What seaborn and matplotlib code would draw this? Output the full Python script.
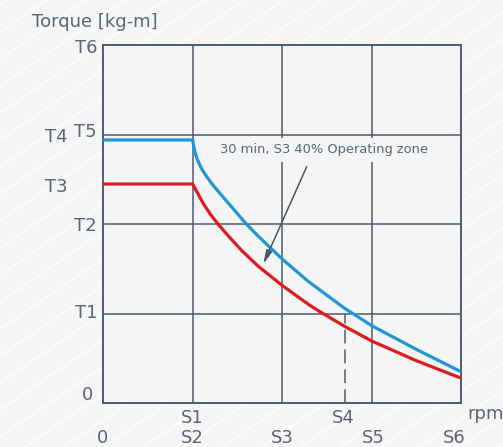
import matplotlib.pyplot as plt
from matplotlib.lines import Line2D
import pandas as pd
import seaborn as sns

# curve readings (speed in grid units S0..S4, torque in grid units 0..T6)
speed_blue = [0.0, 1.002, 1.013, 1.031, 1.056, 1.10, 1.154, 1.232, 1.322,
              1.601, 1.735, 2.003, 2.294, 2.704, 3.006, 3.505, 3.981]
torque_blue = [2.939, 2.939, 2.87, 2.79, 2.715, 2.62, 2.535, 2.43, 2.324,
               2.000, 1.863, 1.608, 1.358, 1.055, 0.862, 0.597, 0.359]
speed_red = [0.0, 1.002, 1.117, 1.201, 1.285, 1.408, 1.550, 1.735, 2.003,
             2.294, 2.425, 2.704, 3.006, 3.505, 3.981]
torque_red = [2.447, 2.447, 2.234, 2.108, 1.999, 1.858, 1.703, 1.527, 1.313,
              1.103, 1.019, 0.854, 0.691, 0.471, 0.285]

# tick labels
y_labels = ["T6", "T5", "T4", "T3", "T2", "T1", "0"]
y_label_pos = [3.907, 2.976, 2.920, 2.361, 1.927, 0.946, 0.034]
y_label_x = [-0.067, -0.067, -0.39, -0.39, -0.067, -0.067, -0.11]
x_labels = ["S1", "S4", "0", "S2", "S3", "S5", "S6"]
x_label_pos = [0.995, 2.68, 0.0, 0.995, 2.0, 3.015, 3.93]
x_label_y = [-0.223, -0.223, -0.447, -0.447, -0.447, -0.447, -0.447]

s4_mark = 2.704
note = "30 min, S3 40% Operating zone"

bg = "#f5f5f5"
grid_c = "#4d5b70"
text_c = "#5a6577"
blue = "#1f97d4"
red = "#df1a1c"

sns.set_style("white", {"axes.facecolor": bg, "figure.facecolor": bg})

W, H = 503, 447
fig = plt.figure(figsize=(W / 100, H / 100), dpi=100)

# faint diagonal stripes in the background
for c in range(-400, 900, 27):
    y0, y1 = c, c - 0.684 * W
    fig.add_artist(Line2D([0, 1], [1 - y0 / H, 1 - y1 / H],
                          transform=fig.transFigure, color="white", lw=0.9,
                          alpha=0.9, zorder=0))

ax = fig.add_axes([103 / W, 44 / H, 358 / W, 358 / H])
ax.set_zorder(1)

df_blue = pd.DataFrame({"speed": speed_blue, "torque": torque_blue})
df_red = pd.DataFrame({"speed": speed_red, "torque": torque_red})
sns.lineplot(data=df_blue, x="speed", y="torque", color=blue, lw=2.3,
             sort=False, estimator=None, ax=ax, zorder=4)
sns.lineplot(data=df_red, x="speed", y="torque", color=red, lw=2.3,
             sort=False, estimator=None, ax=ax, zorder=4)

ax.set_xlim(0, 4)
ax.set_ylim(0, 4)
ax.set_xticks([])
ax.set_yticks([])
ax.set_xlabel("")
ax.set_ylabel("")
for v in [1, 2, 3]:
    ax.axvline(v, color=grid_c, lw=1.1, zorder=1)
    ax.axhline(v, color=grid_c, lw=1.1, zorder=1)
for sp in ax.spines.values():
    sp.set_color(grid_c)
    sp.set_linewidth(1.4)
    sp.set_visible(True)

ax.plot([s4_mark, s4_mark], [0, 1], color=grid_c, lw=1.1,
        dashes=(9, 4), zorder=2)

ax.text(2.47, 2.827, note, ha="center", va="center", fontsize=9.4,
        color=text_c, zorder=3,
        bbox=dict(boxstyle="square,pad=0.45", fc=bg, ec="none"))
ax.annotate("", xy=(1.791, 1.553), xytext=(2.276, 2.64),
            arrowprops=dict(arrowstyle="-|>,head_length=0.8,head_width=0.18",
                            color="#4a5568", lw=1.1, shrinkA=0, shrinkB=0),
            zorder=5)

for lab, y, x in zip(y_labels, y_label_pos, y_label_x):
    ax.text(x, y, lab, ha="right", va="baseline", fontsize=13,
            color=text_c, clip_on=False)
for lab, x, y in zip(x_labels, x_label_pos, x_label_y):
    ax.text(x, y, lab, ha="center", va="baseline", fontsize=13,
            color=text_c, clip_on=False)
ax.text(4.067, -0.179, "rpm", ha="left", va="baseline", fontsize=13,
        color=text_c, clip_on=False)

fig.text(32 / W, 1 - 26.7 / H, "Torque [kg-m]", ha="left", va="baseline",
         fontsize=13, color=text_c)

fig.savefig("out.png", dpi=100, facecolor=bg)
